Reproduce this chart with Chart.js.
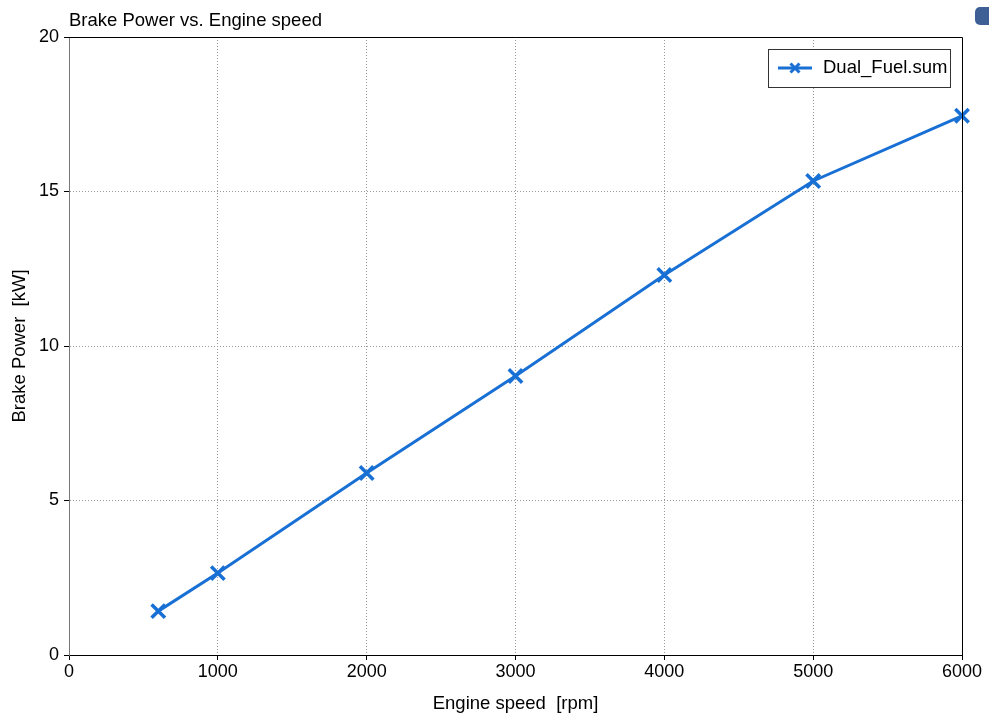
<!DOCTYPE html>
<html>
<head>
<meta charset="utf-8">
<script src="https://cdn.jsdelivr.net/npm/chart.js@4"></script>
<style>
  html, body { margin: 0; padding: 0; background: #fff; }
  #wrap { position: relative; width: 989px; height: 715px; }
  #corner { position: absolute; left: 975px; top: 7px; width: 20px; height: 18px; background: #3d5f96; border-radius: 5px; }
</style>
</head>
<body>
<div id="wrap">
  <canvas id="chart" width="989" height="715"></canvas>
  <div id="corner"></div>
</div>
<script>
// data
const engineSpeed = [600, 1000, 2000, 3000, 4000, 5000, 6000];
const brakePower = [1.42, 2.65, 5.89, 9.03, 12.30, 15.34, 17.45];
const seriesName = 'Dual_Fuel.sum';
const chartTitle = 'Brake Power vs. Engine speed';
const xTitle = 'Engine speed  [rpm]';
const yTitle = 'Brake Power  [kW]';

const lineColor = 'rgb(25, 112, 212)';
const font = 'Liberation Sans, Arial, sans-serif';

// frame, title and legend drawn by hand
const framePlugin = {
    id: 'frame',
    afterDraw(chart) {
        const { ctx, chartArea: a } = chart;
        ctx.save();
        ctx.strokeStyle = '#000';
        ctx.lineWidth = 1;
        ctx.beginPath();
        ctx.moveTo(a.left, a.top + 0.5);
        ctx.lineTo(a.right + 0.5, a.top + 0.5);
        ctx.lineTo(a.right + 0.5, a.bottom);
        ctx.stroke();

        // title
        ctx.fillStyle = '#000';
        ctx.font = '18.5px ' + font;
        ctx.textBaseline = 'middle';
        ctx.textAlign = 'left';
        ctx.fillText(chartTitle, a.left, 21);

        // legend box
        const bx = 768, by = 49, bw = 182, bh = 38;
        ctx.fillStyle = '#fff';
        ctx.fillRect(bx, by, bw, bh);
        ctx.strokeStyle = '#333';
        ctx.strokeRect(bx + 0.5, by + 0.5, bw, bh);
        ctx.strokeStyle = lineColor;
        ctx.lineWidth = 3;
        ctx.beginPath();
        ctx.moveTo(778, by + 19);
        ctx.lineTo(812, by + 19);
        ctx.stroke();
        const cx = 795, cy = by + 19, r = 4.5;
        ctx.beginPath();
        ctx.moveTo(cx - r, cy - r); ctx.lineTo(cx + r, cy + r);
        ctx.moveTo(cx + r, cy - r); ctx.lineTo(cx - r, cy + r);
        ctx.stroke();
        ctx.fillStyle = '#000';
        ctx.font = '18.5px ' + font;
        ctx.fillText(seriesName, 823, by + 19);
        ctx.restore();
    }
};

const ctx = document.getElementById('chart').getContext('2d');
new Chart(ctx, {
    type: 'line',
    data: {
        datasets: [{
            label: seriesName,
            data: engineSpeed.map((x, i) => ({ x: x, y: brakePower[i] })),
            borderColor: lineColor,
            backgroundColor: lineColor,
            borderWidth: 3,
            pointStyle: 'crossRot',
            pointRadius: 9.5,
            pointBorderWidth: 3.5,
            tension: 0,
            clip: false
        }]
    },
    options: {
        responsive: false,
        animation: false,
        layout: { padding: { top: 37, right: 27, left: 0, bottom: 0 } },
        plugins: {
            legend: { display: false },
            tooltip: { enabled: false }
        },
        scales: {
            x: {
                type: 'linear',
                min: 0,
                max: 6000,
                afterFit(s) { s.height = 60; },
                ticks: {
                    stepSize: 1000, color: '#000', font: { family: font, size: 18 }, padding: 1, maxRotation: 0,
                    callback: v => String(v)
                },
                grid: {
                    color: c => (c.tick && (c.tick.value === 0 || c.tick.value === 6000)) ? 'rgba(0,0,0,0)' : '#999',
                    tickColor: '#000',
                    tickLength: 5,
                    tickBorderDash: []
                },
                border: { color: '#000', width: 1, dash: [1, 2] },
                title: { display: true, text: xTitle, color: '#000', font: { family: font, size: 18.5 }, padding: { top: 0, bottom: 0 } }
            },
            y: {
                min: 0,
                max: 20,
                afterFit(s) { s.width = 69; },
                ticks: {
                    stepSize: 5, color: '#000', font: { family: font, size: 18 }, padding: 5,
                    callback: v => String(v)
                },
                grid: {
                    color: c => (c.tick && (c.tick.value === 0 || c.tick.value === 20)) ? 'rgba(0,0,0,0)' : '#999',
                    tickColor: '#000',
                    tickLength: 5,
                    tickBorderDash: []
                },
                border: { color: '#777', width: 1, dash: [1, 2] },
                title: { display: true, text: yTitle, color: '#000', font: { family: font, size: 18.5 }, padding: { top: 9, bottom: 0 } }
            }
        }
    },
    plugins: [framePlugin]
});
</script>
</body>
</html>
